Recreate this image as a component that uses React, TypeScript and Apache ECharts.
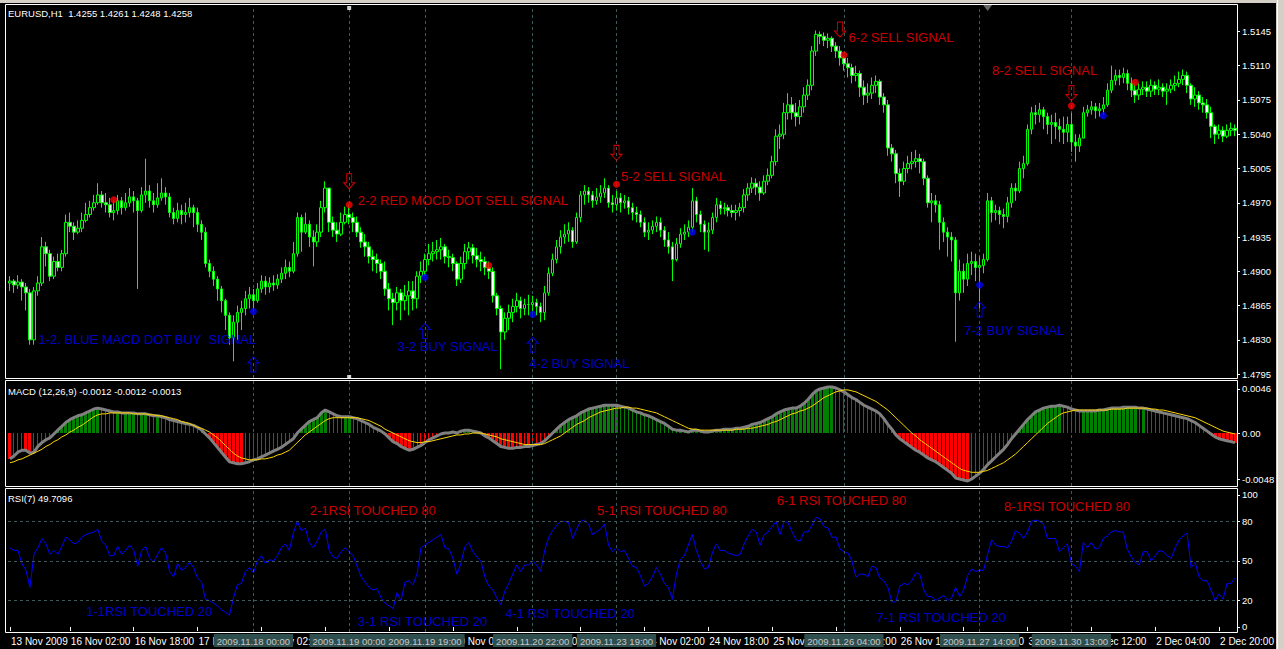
import React, { useEffect, useRef } from "react";
import * as echarts from "echarts";

// EURUSD H1 — prices are stored in pips above BASE_PRICE
const BASE_PRICE = 1.48;
const FIRST_OPEN = 88;

const closePips = [
  90, 86, 89, 84, 78, 30, 80, 88, 125, 118,
  95, 110, 104, 118, 150, 146, 140, 144, 152, 158,
  165, 170, 178, 170, 168, 160, 162, 172, 165, 170,
  176, 172, 162, 178, 182, 172, 168, 175, 180, 176,
  160, 154, 162, 158, 160, 165, 160, 148, 140, 108,
  100, 92, 82, 70, 55, 32, 48, 58, 62, 72,
  76, 70, 82, 90, 84, 88, 86, 92, 98, 104,
  100, 118, 155, 140, 148, 135, 130, 140, 165, 185,
  150, 142, 138, 150, 158, 155, 150, 140, 130, 125,
  115, 112, 108, 100, 82, 72, 68, 78, 70, 75,
  80, 72, 95, 100, 112, 118, 120, 122, 125, 115,
  114, 108, 92, 108, 120, 124, 116, 112, 110, 104,
  100, 75, 62, 38, 52, 58, 64, 70, 62, 66,
  66, 68, 64, 58, 78, 98, 112, 125, 135, 138,
  142, 130, 155, 178, 182, 178, 172, 176, 180, 185,
  170, 168, 175, 170, 172, 165, 160, 158, 150, 140,
  142, 146, 150, 142, 132, 125, 112, 128, 138, 140,
  145, 172, 158, 148, 140, 142, 155, 168, 164, 165,
  162, 160, 162, 165, 178, 185, 190, 186, 180, 192,
  198, 212, 238, 240, 262, 270, 262, 258, 268, 280,
  290, 325, 342, 340, 336, 338, 330, 325, 318, 312,
  308, 300, 302, 288, 280, 282, 290, 294, 278, 270,
  226, 220, 200, 192, 205, 210, 212, 215, 212, 195,
  170, 172, 168, 150, 140, 135, 132, 78, 100, 92,
  108, 110, 104, 106, 112, 172, 160, 162, 158, 156,
  170, 185, 182, 205, 210, 245, 262, 260, 265, 258,
  250, 252, 248, 245, 242, 250, 232, 228, 236, 262,
  265, 268, 264, 266, 270, 285, 295, 300, 298, 302,
  292, 285, 280, 286, 288, 284, 290, 286, 288, 284,
  286, 290, 292, 296, 300, 290, 276, 280, 272, 270,
  262, 248, 240, 244, 238, 244, 246, 244,
];

const highPips = [
  95, 92, 96, 92, 88, 82, 84, 95, 135, 130,
  122, 115, 118, 122, 158, 160, 150, 152, 160, 170,
  172, 178, 190, 182, 180, 175, 172, 178, 176, 180,
  185, 182, 175, 186, 215, 188, 180, 190, 195, 186,
  180, 165, 170, 168, 170, 175, 168, 165, 152, 145,
  112, 105, 95, 85, 72, 58, 55, 65, 70, 80,
  84, 82, 88, 96, 95, 94, 96, 97, 104, 112,
  110, 130, 160, 158, 160, 152, 142, 148, 172, 192,
  185, 156, 150, 160, 166, 168, 160, 156, 145, 138,
  130, 122, 118, 112, 110, 88, 78, 84, 82, 86,
  90, 90, 100, 110, 118, 128, 130, 132, 134, 128,
  122, 118, 110, 115, 128, 130, 128, 124, 120, 115,
  110, 104, 78, 65, 58, 66, 72, 78, 74, 72,
  76, 75, 72, 68, 85, 104, 118, 132, 142, 148,
  150, 145, 160, 182, 188, 186, 182, 185, 188, 195,
  188, 178, 182, 180, 178, 176, 170, 166, 162, 155,
  150, 152, 156, 155, 146, 140, 130, 134, 144, 148,
  152, 185, 176, 162, 152, 150, 160, 175, 172, 170,
  168, 168, 168, 170, 184, 190, 196, 195, 192, 198,
  205, 218, 245, 250, 272, 282, 278, 272, 275, 288,
  296, 330, 346, 345, 344, 343, 340, 334, 330, 320,
  318, 312, 310, 305, 295, 292, 298, 300, 296, 282,
  275, 230, 224, 205, 212, 218, 222, 224, 220, 215,
  198, 180, 178, 172, 155, 145, 140, 135, 112, 108,
  118, 120, 118, 115, 118, 180, 176, 168, 166, 164,
  176, 190, 190, 212, 218, 250, 268, 270, 272, 268,
  262, 260, 262, 256, 258, 258, 262, 240, 240, 268,
  270, 274, 272, 272, 278, 292, 310, 306, 306, 308,
  306, 298, 292, 292, 294, 294, 296, 294, 296, 292,
  292, 296, 300, 304, 306, 304, 292, 288, 284, 278,
  276, 268, 250, 250, 248, 250, 252, 250,
];

const lowPips = [
  80, 78, 82, 70, 60, 25, 25, 75, 85, 105,
  90, 92, 100, 100, 115, 140, 132, 138, 140, 150,
  155, 162, 168, 165, 160, 155, 152, 158, 158, 162,
  166, 160, 82, 160, 170, 165, 160, 165, 172, 168,
  155, 148, 150, 148, 150, 155, 145, 140, 132, 104,
  94, 85, 70, 58, 40, 25, 8, 30, 40, 55,
  62, 60, 68, 78, 76, 78, 80, 82, 88, 92,
  94, 98, 115, 120, 138, 125, 105, 125, 135, 160,
  140, 135, 130, 136, 148, 148, 140, 135, 124, 115,
  108, 100, 98, 92, 75, 60, 45, 60, 50, 60,
  55, 60, 62, 88, 95, 106, 110, 112, 112, 108,
  104, 100, 85, 88, 102, 112, 108, 104, 100, 96,
  92, 68, 55, 0, 30, 40, 48, 58, 52, 55,
  55, 56, 55, 48, 50, 75, 95, 108, 118, 128,
  130, 124, 128, 150, 168, 170, 165, 168, 170, 175,
  165, 160, 162, 160, 164, 158, 152, 150, 145, 135,
  132, 138, 140, 135, 125, 118, 90, 110, 124, 132,
  135, 140, 150, 140, 122, 120, 138, 150, 158, 158,
  156, 155, 152, 156, 160, 172, 180, 178, 172, 178,
  188, 195, 208, 225, 235, 255, 255, 248, 250, 262,
  275, 285, 320, 332, 330, 328, 324, 318, 310, 305,
  298, 292, 294, 278, 270, 272, 276, 282, 270, 262,
  218, 212, 190, 176, 188, 200, 204, 206, 200, 188,
  165, 150, 160, 122, 130, 115, 110, 28, 70, 78,
  85, 96, 90, 62, 98, 110, 150, 152, 148, 144,
  150, 165, 172, 180, 195, 208, 240, 250, 252, 245,
  240, 230, 235, 232, 230, 232, 222, 212, 222, 238,
  258, 260, 256, 258, 260, 268, 282, 290, 290, 292,
  285, 278, 272, 275, 280, 278, 278, 280, 280, 278,
  270, 282, 284, 288, 290, 282, 270, 268, 265, 262,
  256, 236, 230, 235, 232, 236, 238, 238,
];

// MACD (12,26,9) main and signal, in units of 0.0001
const macdMain = [
  -27, -24, -20, -18, -18, -21, -20, -14, -10, -7,
  -5, -1, 3, 7, 11, 14, 16, 18, 19, 21,
  23, 25, 26, 25, 24, 23, 22, 22, 21, 21,
  21, 21, 20, 20, 20, 19, 18, 18, 17, 16,
  14, 13, 12, 11, 10, 9, 8, 6, 3, -1,
  -5, -10, -15, -20, -25, -30, -31, -32, -32, -31,
  -30, -28, -27, -25, -23, -21, -19, -17, -15, -12,
  -9, -6, 0, 4, 8, 12, 14, 16, 21, 24,
  22, 20, 18, 17, 17, 17, 16, 15, 13, 11,
  9, 6, 4, 2, -1, -5, -9, -11, -14, -16,
  -18, -17, -15, -13, -10, -7, -5, -3, -1, 0,
  0, 1, 0, 2, 3, 3, 2, 1, 0, -3,
  -5, -8, -11, -14, -15, -16, -16, -15, -15, -14,
  -14, -13, -12, -11, -8, -4, 0, 4, 8, 11,
  14, 16, 18, 21, 23, 25, 26, 27, 28, 29,
  29, 29, 29, 28, 27, 26, 24, 22, 21, 19,
  18, 16, 14, 12, 10, 7, 4, 3, 3, 2,
  1, 3, 3, 2, 1, 1, 2, 3, 3, 4,
  4, 4, 5, 5, 6, 7, 9, 10, 11, 13,
  15, 17, 20, 22, 24, 25, 26, 26, 28, 31,
  35, 40, 44, 46, 47, 48, 48, 47, 45, 43,
  40, 37, 35, 32, 29, 27, 25, 23, 20, 15,
  9, 4, -2, -6, -9, -12, -15, -18, -20, -23,
  -26, -28, -30, -33, -36, -39, -42, -47, -48, -49,
  -50, -48, -45, -42, -38, -33, -29, -25, -21, -17,
  -12, -6, -1, 4, 9, 14, 18, 22, 24, 26,
  27, 28, 28, 29, 28, 27, 25, 24, 23, 23,
  23, 23, 23, 24, 24, 25, 26, 26, 26, 27,
  27, 27, 27, 26, 26, 25, 24, 23, 22, 21,
  20, 19, 18, 17, 16, 15, 13, 11, 8, 5,
  2, -1, -4, -6, -7, -8, -9, -10,
];

const macdSignal = [
  -31, -30, -28, -27, -25, -23, -21, -19, -17, -14,
  -12, -9, -7, -4, -2, 1, 3, 6, 8, 11,
  14, 17, 19, 20, 20, 21, 21, 21, 21, 21,
  21, 20, 20, 20, 20, 19, 19, 18, 18, 17,
  16, 15, 14, 12, 11, 10, 8, 6, 5, 3,
  1, -2, -5, -9, -13, -17, -21, -24, -26, -27,
  -28, -28, -28, -27, -27, -26, -25, -23, -22, -20,
  -18, -14, -10, -6, -2, 1, 4, 7, 10, 13,
  15, 16, 16, 16, 16, 16, 16, 16, 15, 14,
  13, 11, 9, 7, 4, 2, 0, -2, -4, -6,
  -8, -9, -10, -10, -9, -9, -8, -7, -6, -5,
  -4, -3, -2, -2, -1, -1, 0, 0, 0, -1,
  -2, -3, -4, -6, -7, -8, -9, -10, -11, -12,
  -12, -12, -12, -12, -11, -9, -7, -5, -3, 0,
  3, 6, 9, 11, 13, 16, 18, 20, 22, 23,
  24, 25, 26, 26, 27, 27, 26, 26, 25, 24,
  23, 22, 21, 19, 17, 15, 13, 11, 9, 7,
  5, 4, 4, 3, 3, 3, 3, 3, 3, 3,
  3, 3, 4, 4, 4, 5, 5, 6, 7, 8,
  9, 11, 12, 14, 16, 18, 20, 21, 23, 24,
  26, 28, 31, 34, 37, 39, 41, 43, 44, 45,
  45, 44, 43, 41, 39, 37, 35, 33, 30, 27,
  24, 20, 16, 12, 8, 4, 0, -3, -7, -10,
  -13, -16, -19, -22, -25, -28, -31, -34, -37, -39,
  -40, -41, -41, -41, -40, -39, -37, -35, -33, -31,
  -28, -25, -22, -18, -14, -10, -6, -2, 2, 6,
  10, 13, 16, 19, 21, 22, 23, 24, 24, 24,
  24, 24, 24, 24, 24, 24, 25, 25, 25, 25,
  26, 26, 26, 26, 26, 26, 25, 25, 24, 24,
  23, 22, 21, 20, 19, 18, 17, 16, 14, 12,
  10, 8, 6, 4, 2, 1, 0, -1,
];

// RSI(7)
const rsiValues = [
  60, 58, 58, 48, 43, 30, 55, 60, 67, 63,
  55, 58, 55, 61, 68, 66, 63, 64, 68, 70,
  71, 72, 74, 65, 62, 54, 54, 61, 55, 58,
  62, 58, 46, 58, 61, 52, 49, 55, 60, 56,
  42, 38, 48, 43, 45, 49, 45, 37, 34, 21,
  20, 18, 16, 13, 11, 9, 22, 32, 33, 42,
  45, 41, 50, 54, 48, 51, 50, 54, 60, 63,
  58, 71, 80, 73, 75, 64, 60, 65, 72, 74,
  58, 53, 52, 57, 60, 57, 54, 46, 38, 34,
  30, 28, 29, 22, 18, 16, 14, 26, 20, 34,
  35, 32, 40, 60, 62, 64, 66, 68, 70, 60,
  59, 52, 40, 48, 61, 64, 57, 53, 50, 38,
  31, 28, 22, 17, 27, 33, 40, 47, 42, 47,
  47, 50, 47, 42, 58, 68, 73, 77, 80, 80,
  79, 67, 74, 80, 81, 78, 70, 72, 74, 78,
  62, 57, 60, 57, 58, 52, 46, 45, 39, 31,
  33, 38, 45, 40, 33, 30, 21, 40, 51, 54,
  62, 70, 58, 50, 44, 45, 56, 63, 58, 58,
  56, 55, 54, 55, 63, 69, 74, 72, 62, 70,
  72, 76, 80, 70, 80, 79, 72, 66, 65, 72,
  72, 77, 83, 82, 76, 75, 68, 68, 59, 57,
  56, 50, 38, 40, 40, 38, 46, 45, 37, 35,
  30, 19, 19, 31, 33, 32, 35, 41, 40, 28,
  23, 23, 20, 22, 24, 20, 22, 30, 23, 28,
  39, 44, 42, 43, 43, 55, 66, 62, 61, 61,
  60, 65, 73, 71, 67, 72, 80, 81, 80, 78,
  67, 67, 67, 57, 60, 63, 48, 46, 42, 64,
  60, 64, 59, 60, 67, 69, 72, 73, 72, 72,
  59, 53, 49, 47, 57, 57, 50, 54, 58, 57,
  54, 52, 60, 66, 69, 71, 45, 49, 38, 35,
  35, 28, 20, 25, 21, 33, 33, 37,
];

// Time-axis labels: the first bar, then one every 16 bars from bar 15
const timeLabels = [
  "13 Nov 2009", "16 Nov 02:00", "16 Nov 18:00", "17 Nov 10:00", "18 Nov 02:00",
  "18 Nov 18:00", "19 Nov 10:00", "20 Nov 02:00", "20 Nov 18:00", "23 Nov 10:00",
  "24 Nov 02:00", "24 Nov 18:00", "25 Nov 10:00", "26 Nov 02:00", "26 Nov 18:00",
  "27 Nov 10:00", "30 Nov 02:00", "1 Dec 12:00", "2 Dec 04:00", "2 Dec 20:00",
];
const TICK_FIRST = 15;
const TICK_STEP = 16;

const priceTicks = [1.4795, 1.483, 1.4865, 1.49, 1.4935, 1.497, 1.5005, 1.504, 1.5075, 1.511, 1.5145];
const macdTicks = [0.0046, 0, -0.0048];
const rsiTicks = [0, 20, 50, 80, 100];
const rsiLevels = [20, 50, 80];

// Vertical line objects (bar index and their time)
const vLineBars = [61, 85, 104, 131, 152, 209, 243, 266];
const vLineTimes = [
  "2009.11.18 00:00", "2009.11.19 00:00", "2009.11.19 19:00", "2009.11.20 22:00",
  "2009.11.23 19:00", "2009.11.26 04:00", "2009.11.27 14:00", "2009.11.30 13:00",
];

// MACD signal dots on the price chart: [bar, pips]
const sellDots = [[26, 173], [85, 168], [120, 106], [152, 189], [209, 321], [266, 269], [282, 293]];
const buyDots = [[61, 59], [104, 94], [131, 56], [171, 140], [243, 86], [274, 259]];

// Hollow arrows: [bar, pips]
const sellArrows = [[85, 192], [152, 221], [208, 347], [266, 282]];
const buyArrows = [[61, 5], [104, 39], [131, 25], [243, 61]];

// Price-chart notes: [bar, pips]
const priceNoteAt = [[7, 30], [87, 172], [97, 23], [130, 6], [153, 197], [210, 339], [239, 40], [246, 305]];
const priceNoteText = [
  "1-2. BLUE MACD DOT BUY  SIGNAL", "2-2 RED MOCD DOT SELL SIGNAL", "3-2 BUY SIGNAL", "4-2 BUY SIGNAL",
  "5-2 SELL SIGNAL", "6-2 SELL SIGNAL", "7-2 BUY SIGNAL", "8-2 SELL SIGNAL",
];
const priceNoteSide = ["buy", "sell", "buy", "buy", "sell", "sell", "buy", "sell"];

// RSI-window notes: [bar, rsi]
const rsiNoteAt = [[19, 12], [75, 88], [87, 4], [124, 10], [147, 88], [192, 96], [217, 7], [249, 91]];
const rsiNoteText = [
  "1-1RSI TOUCHED 20", "2-1RSI TOUCHED 80", "3-1 RSI TOUCHED 20", "4-1 RSI TOUCHED 20",
  "5-1 RSI TOUCHED 80", "6-1 RSI TOUCHED 80", "7-1 RSI TOUCHED 20", "8-1RSI TOUCHED 80",
];
const rsiNoteSide = ["buy", "sell", "buy", "buy", "sell", "sell", "buy", "sell"];

const PRICE_MIN = 1.4791;
const PRICE_MAX = 1.5171;
const MACD_MIN = -0.00553;
const MACD_MAX = 0.00543;
const RSI_MIN = -3.8;
const RSI_MAX = 104.5;

const SANS = '"Liberation Sans", Arial, sans-serif';
const SMALL = 9.5;
const WHITE = "#ffffff";
const LIME = "#00ff00";
const RED = "#ff0000";
const BLUE = "#0000ff";
const GRID_DASH = "#3b5b5b";
const HIST_GREEN = "#008000";

const toPrice = (p: number) => BASE_PRICE + p / 10000;
const sideColor = (s: string) => (s === "buy" ? BLUE : RED);

function tickSlot(i: number): number {
  if (i === 0) return 0;
  if (i >= TICK_FIRST && (i - TICK_FIRST) % TICK_STEP === 0) {
    const k = (i - TICK_FIRST) / TICK_STEP + 1;
    return k < timeLabels.length ? k : -1;
  }
  return -1;
}

function buildOption() {
  const bars = closePips.map((_, i) => i);

  const candles = closePips.map((c, i) => {
    // each hourly bar opens at the previous bar's close
    const o = i === 0 ? FIRST_OPEN : closePips[i - 1];
    const h = Math.max(highPips[i], o, c);
    const l = Math.min(lowPips[i], o, c);
    return [toPrice(o), toPrice(c), toPrice(l), toPrice(h)];
  });

  const hist = macdMain.map((m, i) => {
    const prev = i === 0 ? m : macdMain[i - 1];
    const wide = (m > 0 && m >= prev) || (m < 0 && m <= prev) ? 1 : 0;
    return [i, m / 10000, wide];
  });

  const vLinePlain = vLineBars.map((b) => ({ xAxis: b }));
  const dashed = { type: [3, 3] as number[], color: GRID_DASH, width: 1 };

  const xBase = (gridIndex: number) => ({
    type: "category",
    gridIndex,
    data: bars,
    boundaryGap: true,
    axisLine: { show: false },
    axisTick: { show: false },
    axisLabel: { show: false },
    splitLine: { show: false },
  });

  const yLabel = {
    color: WHITE,
    fontSize: SMALL,
    fontFamily: SANS,
    margin: 5,
  };

  const noteSeries = (
    name: string,
    xi: number,
    yi: number,
    at: number[][],
    texts: string[],
    sides: string[],
    conv: (v: number) => number
  ) => ({
    name,
    type: "scatter",
    xAxisIndex: xi,
    yAxisIndex: yi,
    symbol: "circle",
    symbolSize: 1,
    itemStyle: { color: "rgba(0,0,0,0)" },
    silent: true,
    z: 20,
    data: at.map((p, k) => ({
      value: [p[0], conv(p[1])],
      name: texts[k],
      label: { color: sideColor(sides[k]) },
    })),
    label: {
      show: true,
      position: "right",
      distance: 0,
      formatter: "{b}",
      fontSize: 13,
      fontFamily: SANS,
    },
  });

  return {
    animation: false,
    backgroundColor: "#000000",
    grid: [
      { left: 8, top: 6, width: 1229, height: 372 },
      { left: 8, top: 381, width: 1229, height: 105 },
      { left: 8, top: 489, width: 1229, height: 143 },
    ],
    xAxis: [
      xBase(0),
      xBase(1),
      {
        ...xBase(2),
        axisTick: {
          show: true,
          alignWithLabel: true,
          length: 4,
          interval: (i: number) => tickSlot(i) >= 0,
          lineStyle: { color: WHITE },
        },
        axisLabel: {
          show: true,
          interval: (i: number) => tickSlot(i) >= 0,
          formatter: (_v: string, i: number) => {
            const k = tickSlot(i);
            return k >= 0 ? timeLabels[k] : "";
          },
          showMinLabel: true,
          hideOverlap: false,
          color: WHITE,
          fontSize: 10,
          fontFamily: SANS,
          align: "left",
          margin: 4,
          padding: [0, 0, 0, 1],
        },
      },
    ],
    yAxis: [
      {
        type: "value",
        gridIndex: 0,
        position: "right",
        min: PRICE_MIN,
        max: PRICE_MAX,
        axisLine: { show: false },
        splitLine: { show: false },
        axisTick: { show: true, length: 3, customValues: priceTicks, lineStyle: { color: WHITE } },
        axisLabel: { ...yLabel, customValues: priceTicks, formatter: (v: number) => v.toFixed(4) },
      },
      {
        type: "value",
        gridIndex: 1,
        position: "right",
        min: MACD_MIN,
        max: MACD_MAX,
        axisLine: { show: false },
        splitLine: { show: false },
        axisTick: { show: true, length: 3, customValues: macdTicks, lineStyle: { color: WHITE } },
        axisLabel: {
          ...yLabel,
          customValues: macdTicks,
          formatter: (v: number) => (Math.abs(v) < 1e-9 ? "0.00" : v.toFixed(4)),
        },
      },
      {
        type: "value",
        gridIndex: 2,
        position: "right",
        min: RSI_MIN,
        max: RSI_MAX,
        axisLine: { show: false },
        splitLine: { show: false },
        axisTick: { show: true, length: 3, customValues: rsiTicks, lineStyle: { color: WHITE } },
        axisLabel: { ...yLabel, customValues: rsiTicks, formatter: (v: number) => String(Math.round(v)) },
      },
    ],
    graphic: [
      { type: "rect", shape: { x: 0, y: 0, width: 1284, height: 3 }, style: { fill: "#d4d0c8" }, silent: true },
      { type: "rect", shape: { x: 1276, y: 0, width: 8, height: 649 }, style: { fill: "#d4d0c8" }, silent: true },
      { type: "line", shape: { x1: 1277.5, y1: 0, x2: 1277.5, y2: 649 }, style: { stroke: WHITE, lineWidth: 1 }, silent: true },
      { type: "rect", shape: { x: 5.5, y: 4.5, width: 1232, height: 374 }, style: { fill: "none", stroke: WHITE, lineWidth: 1 }, silent: true, z: 50 },
      { type: "rect", shape: { x: 5.5, y: 380.5, width: 1232, height: 106 }, style: { fill: "none", stroke: WHITE, lineWidth: 1 }, silent: true, z: 50 },
      { type: "rect", shape: { x: 5.5, y: 488.5, width: 1232, height: 144 }, style: { fill: "none", stroke: WHITE, lineWidth: 1 }, silent: true, z: 50 },
      {
        type: "text", left: 8, top: 8, silent: true, z: 50,
        style: { text: "EURUSD,H1  1.4255 1.4261 1.4248 1.4258", fill: WHITE, font: `${SMALL}px ${SANS}` },
      },
      {
        type: "text", left: 8, top: 386, silent: true, z: 50,
        style: { text: "MACD (12,26,9) -0.0012 -0.0012 -0.0013", fill: WHITE, font: `${SMALL}px ${SANS}` },
      },
      {
        type: "text", left: 8, top: 493, silent: true, z: 50,
        style: { text: "RSI(7) 49.7096", fill: WHITE, font: `${SMALL}px ${SANS}` },
      },
    ],
    series: [
      {
        name: "EURUSD,H1",
        type: "candlestick",
        xAxisIndex: 0,
        yAxisIndex: 0,
        barWidth: 3,
        data: candles,
        itemStyle: {
          color: "#000000",
          color0: "#ffffff",
          borderColor: LIME,
          borderColor0: LIME,
          borderWidth: 1,
        },
        markLine: {
          silent: true,
          symbol: ["none", "none"],
          label: { show: false },
          lineStyle: dashed,
          data: vLinePlain,
          z: 1,
        },
      },
      {
        name: "selected line handles",
        type: "scatter",
        xAxisIndex: 0,
        yAxisIndex: 0,
        symbol: "rect",
        symbolSize: 4,
        silent: true,
        itemStyle: { color: WHITE },
        data: [
          { value: [vLineBars[1], PRICE_MAX], symbolOffset: [0, 2] },
          { value: [vLineBars[1], PRICE_MIN], symbolOffset: [0, -1] },
        ],
      },
      {
        name: "chart shift",
        type: "scatter",
        xAxisIndex: 0,
        yAxisIndex: 0,
        symbol: "triangle",
        symbolRotate: 180,
        symbolSize: [9, 6],
        symbolOffset: [0, 2],
        silent: true,
        itemStyle: { color: "#808080" },
        data: [[245, PRICE_MAX]],
      },
      {
        name: "sell dots",
        type: "scatter",
        xAxisIndex: 0,
        yAxisIndex: 0,
        symbolSize: 7,
        itemStyle: { color: RED },
        z: 10,
        data: sellDots.map((d) => [d[0], toPrice(d[1])]),
      },
      {
        name: "buy dots",
        type: "scatter",
        xAxisIndex: 0,
        yAxisIndex: 0,
        symbolSize: 7,
        itemStyle: { color: BLUE },
        z: 10,
        data: buyDots.map((d) => [d[0], toPrice(d[1])]),
      },
      {
        name: "sell arrows",
        type: "scatter",
        xAxisIndex: 0,
        yAxisIndex: 0,
        symbol: "path://M3,0L8,0L8,9L11,9L5.5,15L0,9L3,9Z",
        symbolSize: [11, 15],
        itemStyle: { color: "rgba(0,0,0,0)", borderColor: RED, borderWidth: 1 },
        z: 10,
        data: sellArrows.map((d) => [d[0], toPrice(d[1])]),
      },
      {
        name: "buy arrows",
        type: "scatter",
        xAxisIndex: 0,
        yAxisIndex: 0,
        symbol: "path://M5.5,0L11,6L8,6L8,15L3,15L3,6L0,6Z",
        symbolSize: [11, 15],
        itemStyle: { color: "rgba(0,0,0,0)", borderColor: BLUE, borderWidth: 1 },
        z: 10,
        data: buyArrows.map((d) => [d[0], toPrice(d[1])]),
      },
      noteSeries("price notes", 0, 0, priceNoteAt, priceNoteText, priceNoteSide, toPrice),
      {
        name: "MACD histogram",
        type: "custom",
        xAxisIndex: 1,
        yAxisIndex: 1,
        silent: true,
        data: hist,
        renderItem: (_p: any, api: any) => {
          const i = api.value(0);
          const v = api.value(1);
          const w = api.value(2) ? 3 : 1;
          const base = api.coord([i, 0]);
          const top = api.coord([i, v]);
          const y0 = Math.round(Math.min(base[1], top[1]));
          const y1 = Math.round(Math.max(base[1], top[1]));
          return {
            type: "rect",
            shape: {
              x: Math.round(base[0] - w / 2),
              y: y0,
              width: w,
              height: Math.max(1, y1 - y0),
            },
            style: { fill: v >= 0 ? HIST_GREEN : RED },
          };
        },
      },
      {
        name: "MACD",
        type: "line",
        xAxisIndex: 1,
        yAxisIndex: 1,
        showSymbol: false,
        silent: true,
        lineStyle: { color: "#808080", width: 3 },
        data: macdMain.map((m) => m / 10000),
        z: 5,
      },
      {
        name: "Signal",
        type: "line",
        xAxisIndex: 1,
        yAxisIndex: 1,
        showSymbol: false,
        silent: true,
        lineStyle: { color: "#ffd700", width: 1 },
        data: macdSignal.map((m) => m / 10000),
        z: 6,
        markLine: {
          silent: true,
          symbol: ["none", "none"],
          label: { show: false },
          lineStyle: dashed,
          data: vLinePlain,
        },
      },
      {
        name: "RSI(7)",
        type: "line",
        xAxisIndex: 2,
        yAxisIndex: 2,
        showSymbol: false,
        silent: true,
        lineStyle: { color: BLUE, width: 1 },
        data: rsiValues,
        z: 5,
        markLine: {
          silent: true,
          symbol: ["none", "none"],
          lineStyle: dashed,
          z: 30,
          data: [
            ...rsiLevels.map((v) => ({ yAxis: v, label: { show: false } })),
            ...vLineBars.map((b, k) => ({
              xAxis: b,
              name: vLineTimes[k],
              label: {
                show: true,
                position: "start",
                formatter: "{b}",
                distance: 2,
                color: "#c8c8c8",
                backgroundColor: "#2f4f4f",
                padding: [2, 3, 1, 3],
                fontSize: SMALL,
                fontFamily: SANS,
              },
            })),
          ],
        },
      },
      noteSeries("rsi notes", 2, 2, rsiNoteAt, rsiNoteText, rsiNoteSide, (v) => v),
    ],
  };
}

export default function App() {
  const ref = useRef<HTMLDivElement>(null);

  useEffect(() => {
    if (!ref.current) return;
    const chart = echarts.init(ref.current, null, { renderer: "svg" });
    chart.setOption(buildOption() as any);
    return () => chart.dispose();
  }, []);

  return (
    <div
      ref={ref}
      style={{ position: "fixed", left: 0, top: 0, width: 1284, height: 649, background: "#000" }}
    />
  );
}
